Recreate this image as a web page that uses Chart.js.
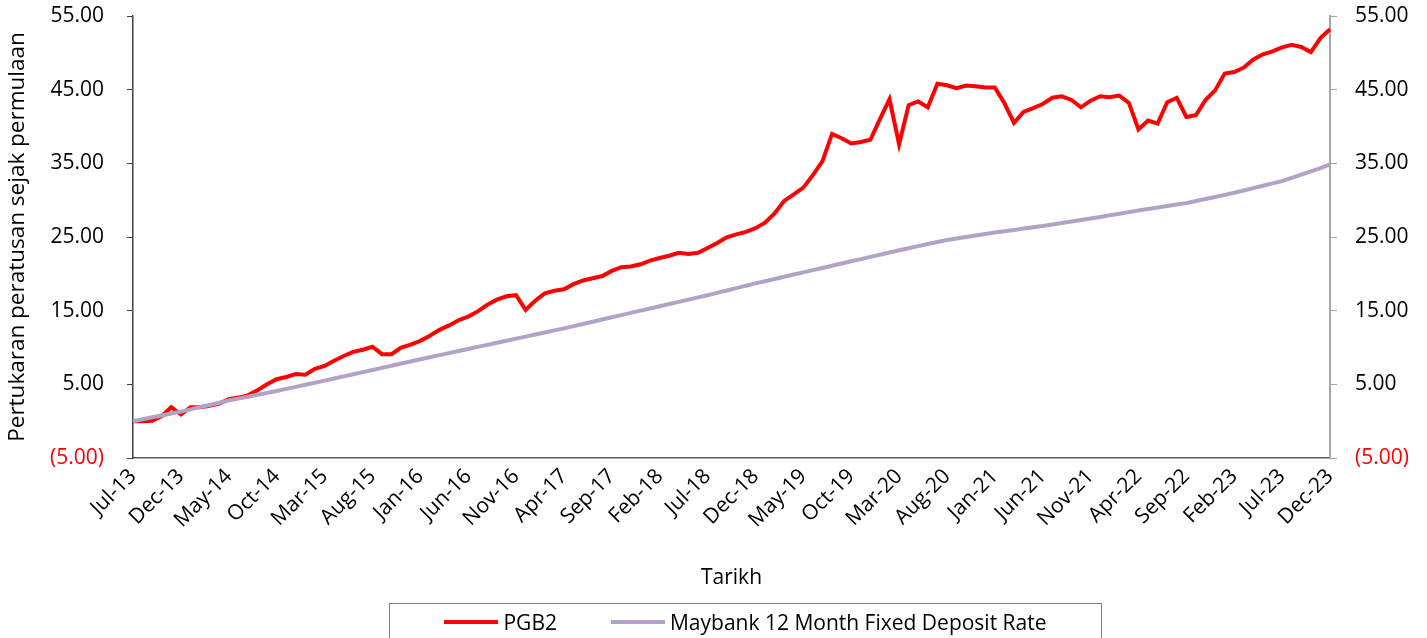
<!DOCTYPE html>
<html>
<head>
<meta charset="utf-8">
<script src="https://cdn.jsdelivr.net/npm/chart.js@4/dist/chart.umd.min.js"></script>
<style>
  html, body { margin: 0; padding: 0; background: #fff; overflow: hidden; }
  #wrap { position: relative; width: 1427px; height: 638px; }
  #legend {
    position: absolute; left: 389px; top: 603px; width: 713px; height: 50px;
    box-sizing: border-box; border: 1px solid #7f7f7f;
    display: flex; justify-content: center; align-items: flex-start;
    padding-top: 5px; font-family: "Open Sans", sans-serif; font-size: 21px; line-height: 26px; color: #000;
  }
  #legend .item { display: flex; align-items: center; }
  #legend .item + .item { margin-left: 54px; }
  #legend .swatch { display: inline-block; width: 54px; height: 4px; margin-right: 5px; }
</style>
</head>
<body>
<div id="wrap">
  <canvas id="chart" width="1427" height="638"></canvas>
  <div id="legend"></div>
</div>
<script>
// bulan (kategori paksi-x)
const months = [
  'Jul-13','Aug-13','Sep-13','Oct-13','Nov-13','Dec-13',
  'Jan-14','Feb-14','Mar-14','Apr-14','May-14','Jun-14','Jul-14','Aug-14','Sep-14','Oct-14','Nov-14','Dec-14',
  'Jan-15','Feb-15','Mar-15','Apr-15','May-15','Jun-15','Jul-15','Aug-15','Sep-15','Oct-15','Nov-15','Dec-15',
  'Jan-16','Feb-16','Mar-16','Apr-16','May-16','Jun-16','Jul-16','Aug-16','Sep-16','Oct-16','Nov-16','Dec-16',
  'Jan-17','Feb-17','Mar-17','Apr-17','May-17','Jun-17','Jul-17','Aug-17','Sep-17','Oct-17','Nov-17','Dec-17',
  'Jan-18','Feb-18','Mar-18','Apr-18','May-18','Jun-18','Jul-18','Aug-18','Sep-18','Oct-18','Nov-18','Dec-18',
  'Jan-19','Feb-19','Mar-19','Apr-19','May-19','Jun-19','Jul-19','Aug-19','Sep-19','Oct-19','Nov-19','Dec-19',
  'Jan-20','Feb-20','Mar-20','Apr-20','May-20','Jun-20','Jul-20','Aug-20','Sep-20','Oct-20','Nov-20','Dec-20',
  'Jan-21','Feb-21','Mar-21','Apr-21','May-21','Jun-21','Jul-21','Aug-21','Sep-21','Oct-21','Nov-21','Dec-21',
  'Jan-22','Feb-22','Mar-22','Apr-22','May-22','Jun-22','Jul-22','Aug-22','Sep-22','Oct-22','Nov-22','Dec-22',
  'Jan-23','Feb-23','Mar-23','Apr-23','May-23','Jun-23','Jul-23','Aug-23','Sep-23','Oct-23','Nov-23','Dec-23'
];

// label yang dipaparkan pada paksi-x
const tickLabels = [
  'Jul-13','Dec-13','May-14','Oct-14','Mar-15','Aug-15','Jan-16','Jun-16','Nov-16',
  'Apr-17','Sep-17','Feb-18','Jul-18','Dec-18','May-19','Oct-19','Mar-20','Aug-20',
  'Jan-21','Jun-21','Nov-21','Apr-22','Sep-22','Feb-23','Jul-23','Dec-23'
];

// PGB2 - pertukaran peratusan sejak permulaan
const pgb2 = [
  0.00, 0.00, 0.05, 0.70, 1.90, 0.90, 1.90, 1.90, 2.10, 2.40,
  3.00, 3.20, 3.50, 4.20, 5.00, 5.70, 6.00, 6.40, 6.30, 7.10,
  7.50, 8.20, 8.85, 9.40, 9.70, 10.10, 9.10, 9.10, 10.00, 10.40,
  10.90, 11.60, 12.40, 13.00, 13.70, 14.20, 14.90, 15.80, 16.50, 16.95,
  17.10, 15.10, 16.35, 17.35, 17.70, 17.90, 18.60, 19.10, 19.40, 19.70,
  20.40, 20.90, 21.00, 21.30, 21.80, 22.15, 22.45, 22.85, 22.70, 22.85,
  23.50, 24.20, 24.95, 25.35, 25.70, 26.20, 26.95, 28.20, 29.90, 30.80,
  31.70, 33.40, 35.30, 39.00, 38.40, 37.70, 37.90, 38.20, 41.00, 43.70,
  37.60, 42.90, 43.40, 42.60, 45.80, 45.60, 45.20, 45.55, 45.45, 45.30,
  45.30, 43.15, 40.50, 41.97, 42.50, 43.05, 43.90, 44.10, 43.60, 42.60,
  43.50, 44.10, 43.96, 44.20, 43.20, 39.60, 40.80, 40.40, 43.30, 43.90,
  41.30, 41.55, 43.60, 44.90, 47.20, 47.40, 48.00, 49.10, 49.80, 50.20,
  50.75, 51.10, 50.80, 50.10, 52.00, 53.20
];

// Maybank 12 Month Fixed Deposit Rate
const maybankFD = [
  0.00, 0.26, 0.52, 0.78, 1.04, 1.30, 1.60, 1.90, 2.20, 2.50,
  2.80, 3.06, 3.32, 3.58, 3.84, 4.10, 4.38, 4.66, 4.94, 5.22,
  5.50, 5.79, 6.08, 6.37, 6.66, 6.95, 7.24, 7.53, 7.82, 8.11,
  8.40, 8.68, 8.96, 9.24, 9.52, 9.80, 10.08, 10.36, 10.64, 10.92,
  11.20, 11.48, 11.76, 12.04, 12.32, 12.60, 12.90, 13.20, 13.50, 13.80,
  14.10, 14.40, 14.70, 15.00, 15.30, 15.60, 15.90, 16.20, 16.50, 16.80,
  17.10, 17.42, 17.74, 18.06, 18.38, 18.70, 19.00, 19.30, 19.60, 19.90,
  20.20, 20.50, 20.80, 21.10, 21.40, 21.70, 22.00, 22.30, 22.60, 22.90,
  23.20, 23.48, 23.76, 24.04, 24.32, 24.60, 24.80, 25.00, 25.20, 25.40,
  25.60, 25.78, 25.96, 26.14, 26.32, 26.50, 26.70, 26.90, 27.10, 27.30,
  27.50, 27.72, 27.94, 28.16, 28.38, 28.60, 28.80, 29.00, 29.20, 29.40,
  29.60, 29.88, 30.16, 30.44, 30.72, 31.00, 31.32, 31.64, 31.96, 32.28,
  32.60, 33.04, 33.48, 33.92, 34.36, 34.85
];

const FONT = { family: 'Open Sans', size: 21 };

// format nombor gaya Excel: negatif dalam kurungan
const fmtTick = (v) => v < 0 ? '(' + Math.abs(v).toFixed(2) + ')' : v.toFixed(2);
const tickColor = (ctx) => ctx.tick && ctx.tick.value < 0 ? '#ff0000' : '#000000';

// petunjuk HTML (kotak berbingkai di bawah carta)
const htmlLegend = {
  id: 'htmlLegend',
  afterUpdate(chart) {
    const box = document.getElementById('legend');
    box.innerHTML = '';
    chart.data.datasets.forEach(ds => {
      const item = document.createElement('span');
      item.className = 'item';
      const sw = document.createElement('span');
      sw.className = 'swatch';
      sw.style.background = ds.borderColor;
      const txt = document.createElement('span');
      txt.textContent = ds.label;
      item.appendChild(sw);
      item.appendChild(txt);
      box.appendChild(item);
    });
  }
};

// lebar paksi-y tetap; padding atas/bawah tidak ikut ticks.padding
const fixY = (w) => (s) => { s.width = w; s.paddingTop = 8; s.paddingBottom = 8; };

const config = {
  type: 'line',
  data: {
    labels: months,
    datasets: [
      {
        label: 'PGB2',
        data: pgb2,
        borderColor: '#ff0000',
        backgroundColor: '#ff0000',
        borderWidth: 4,
        pointRadius: 0,
        tension: 0,
        order: 2
      },
      {
        label: 'Maybank 12 Month Fixed Deposit Rate',
        data: maybankFD,
        borderColor: '#b3a2c7',
        backgroundColor: '#b3a2c7',
        borderWidth: 4,
        pointRadius: 0,
        tension: 0,
        order: 1
      }
    ]
  },
  options: {
    responsive: false,
    animation: false,
    layout: { padding: { top: 16, bottom: 46, left: 0, right: 0 } },
    plugins: {
      legend: { display: false },
      tooltip: { enabled: false }
    },
    scales: {
      x: {
        grid: { display: false, drawTicks: false },
        border: { display: true, color: '#595959', width: 1.5 },
        ticks: {
          autoSkip: false,
          maxRotation: 45,
          minRotation: 45,
          padding: 6,
          color: '#000',
          font: FONT,
          callback: (v, i) => tickLabels.includes(months[i]) ? months[i] : ''
        },
        title: { display: true, text: 'Tarikh', color: '#000', font: FONT, padding: { top: 0, bottom: 1 } },
        afterFit: (s) => { s.height = 134; }
      },
      y: {
        position: 'left',
        min: -5,
        max: 55,
        ticks: { stepSize: 10, padding: 23, font: FONT, color: tickColor, callback: fmtTick },
        grid: { drawOnChartArea: false, drawTicks: true, tickLength: 6, color: '#404040' },
        border: { color: '#404040', width: 1.5 },
        title: { display: true, text: 'Pertukaran peratusan sejak permulaan', color: '#000', font: { family: 'Open Sans', size: 22.5 }, padding: { top: 4, bottom: 0 } },
        afterFit: fixY(133)
      },
      y2: {
        position: 'right',
        min: -5,
        max: 55,
        ticks: { stepSize: 10, padding: 18, font: FONT, color: tickColor, callback: fmtTick },
        grid: { drawOnChartArea: false, drawTicks: true, tickLength: 7, color: '#a6a6a6' },
        border: { color: '#a6a6a6', width: 2 },
        afterFit: fixY(97)
      }
    }
  },
  plugins: [htmlLegend]
};

const ctx = document.querySelector('#chart');
const fundChart = new Chart(ctx, config);
</script>
</body>
</html>
